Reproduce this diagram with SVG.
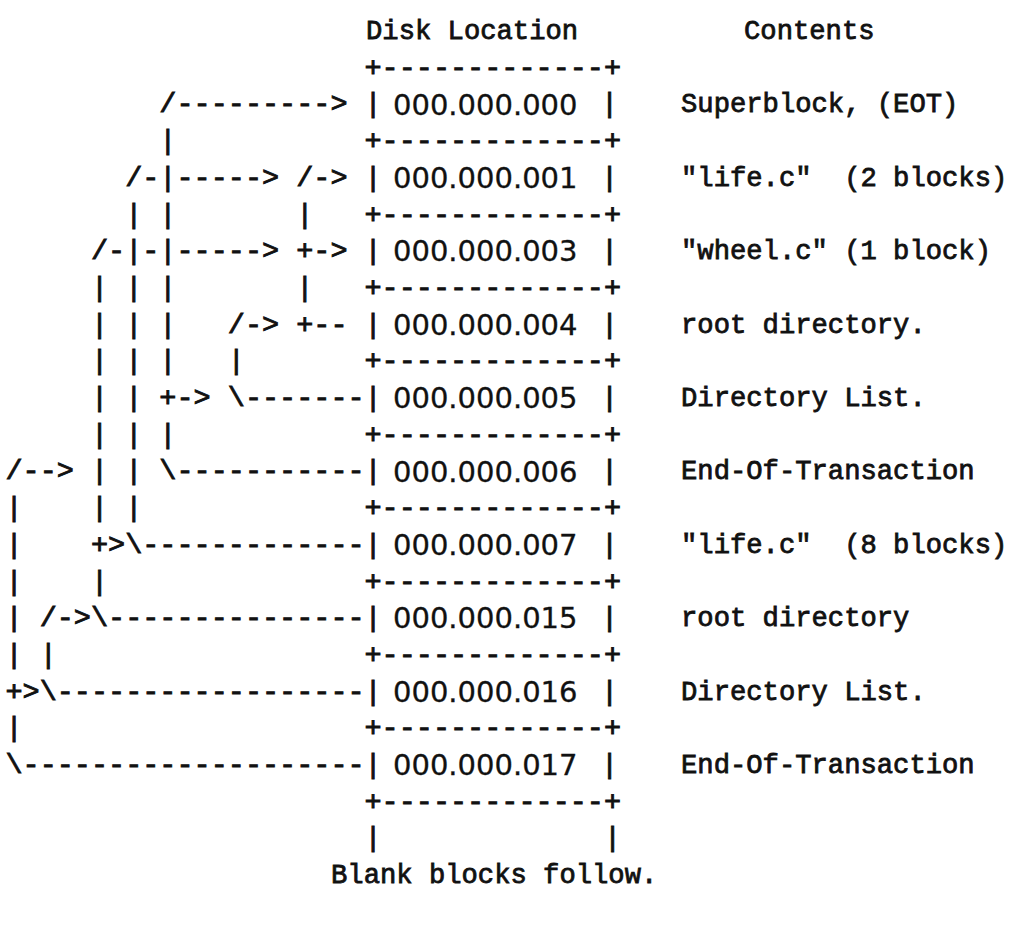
<svg xmlns="http://www.w3.org/2000/svg" width="1020" height="930" viewBox="0 0 1020 930" xml:space="preserve">
<style>
.a{font-family:"Liberation Mono","DejaVu Sans Mono",monospace;font-size:28.5px;font-weight:normal;fill:#111;stroke:#111;stroke-width:0.9px;white-space:pre}
.t{font-family:"Liberation Mono","DejaVu Sans Mono",monospace;font-size:27.2px;font-weight:normal;fill:#111;stroke:#111;stroke-width:0.8px;white-space:pre}
.d{font-family:"DejaVu Sans","Liberation Sans",sans-serif;font-size:29px;fill:#111;stroke:#111;stroke-width:0.3px}
</style>
<rect width="1020" height="930" fill="#fff"/>
<g id="header">
<text class="t" x="366" y="39">Disk Location</text>
<text class="t" x="744" y="39">Contents</text>
</g>
<g id="frame">
<text class="a" x="364.5" y="75.7">+-------------+</text>
<text class="a" x="364.5" y="149.1">+-------------+</text>
<text class="a" x="364.5" y="222.5">+-------------+</text>
<text class="a" x="364.5" y="295.9">+-------------+</text>
<text class="a" x="364.5" y="369.3">+-------------+</text>
<text class="a" x="364.5" y="442.7">+-------------+</text>
<text class="a" x="364.5" y="516.1">+-------------+</text>
<text class="a" x="364.5" y="589.5">+-------------+</text>
<text class="a" x="364.5" y="662.9">+-------------+</text>
<text class="a" x="364.5" y="736.3">+-------------+</text>
<text class="a" x="364.5" y="809.7">+-------------+</text>
<text class="a" x="364.5" y="846.4">|             |</text>
<text class="t" x="331" y="883.1">Blank blocks follow.</text>
</g>
<g id="connectors">
<text class="a" x="5.45" y="112.4">         /---------&gt; </text>
<text class="a" x="5.45" y="149.1">         |</text>
<text class="a" x="5.45" y="185.8">       /-|-----&gt; /-&gt; </text>
<text class="a" x="5.45" y="222.5">       | |       |</text>
<text class="a" x="5.45" y="259.2">     /-|-|-----&gt; +-&gt; </text>
<text class="a" x="5.45" y="295.9">     | | |       |</text>
<text class="a" x="5.45" y="332.6">     | | |   /-&gt; +-- </text>
<text class="a" x="5.45" y="369.3">     | | |   |</text>
<text class="a" x="5.45" y="406">     | | +-&gt; \-------</text>
<text class="a" x="5.45" y="442.7">     | | |</text>
<text class="a" x="5.45" y="479.4">/--&gt; | | \-----------</text>
<text class="a" x="5.45" y="516.1">|    | |</text>
<text class="a" x="5.45" y="552.8">|    +&gt;\-------------</text>
<text class="a" x="5.45" y="589.5">|    |</text>
<text class="a" x="5.45" y="626.2">| /-&gt;\---------------</text>
<text class="a" x="5.45" y="662.9">| |</text>
<text class="a" x="5.45" y="699.6">+&gt;\------------------</text>
<text class="a" x="5.45" y="736.3">|</text>
<text class="a" x="5.45" y="773">\--------------------</text>
</g>
<g id="block-000">
<text class="a" x="364.5" y="112.4">|</text><text class="d" x="393" y="114.5">000.000.000</text><text class="a" x="601" y="112.4">|</text>
<text class="t" x="681" y="112.4">Superblock, (EOT)</text>
</g>
<g id="block-001">
<text class="a" x="364.5" y="185.8">|</text><text class="d" x="393" y="187.9">000.000.001</text><text class="a" x="601" y="185.8">|</text>
<text class="t" x="681" y="185.8">"life.c"  (2 blocks)</text>
</g>
<g id="block-003">
<text class="a" x="364.5" y="259.2">|</text><text class="d" x="393" y="261.3">000.000.003</text><text class="a" x="601" y="259.2">|</text>
<text class="t" x="681" y="259.2">"wheel.c" (1 block)</text>
</g>
<g id="block-004">
<text class="a" x="364.5" y="332.6">|</text><text class="d" x="393" y="334.7">000.000.004</text><text class="a" x="601" y="332.6">|</text>
<text class="t" x="681" y="332.6">root directory.</text>
</g>
<g id="block-005">
<text class="a" x="364.5" y="406">|</text><text class="d" x="393" y="408.1">000.000.005</text><text class="a" x="601" y="406">|</text>
<text class="t" x="681" y="406">Directory List.</text>
</g>
<g id="block-006">
<text class="a" x="364.5" y="479.4">|</text><text class="d" x="393" y="481.5">000.000.006</text><text class="a" x="601" y="479.4">|</text>
<text class="t" x="681" y="479.4">End-Of-Transaction</text>
</g>
<g id="block-007">
<text class="a" x="364.5" y="552.8">|</text><text class="d" x="393" y="554.9">000.000.007</text><text class="a" x="601" y="552.8">|</text>
<text class="t" x="681" y="552.8">"life.c"  (8 blocks)</text>
</g>
<g id="block-015">
<text class="a" x="364.5" y="626.2">|</text><text class="d" x="393" y="628.3">000.000.015</text><text class="a" x="601" y="626.2">|</text>
<text class="t" x="681" y="626.2">root directory</text>
</g>
<g id="block-016">
<text class="a" x="364.5" y="699.6">|</text><text class="d" x="393" y="701.7">000.000.016</text><text class="a" x="601" y="699.6">|</text>
<text class="t" x="681" y="699.6">Directory List.</text>
</g>
<g id="block-017">
<text class="a" x="364.5" y="773">|</text><text class="d" x="393" y="775.1">000.000.017</text><text class="a" x="601" y="773">|</text>
<text class="t" x="681" y="773">End-Of-Transaction</text>
</g>
</svg>
